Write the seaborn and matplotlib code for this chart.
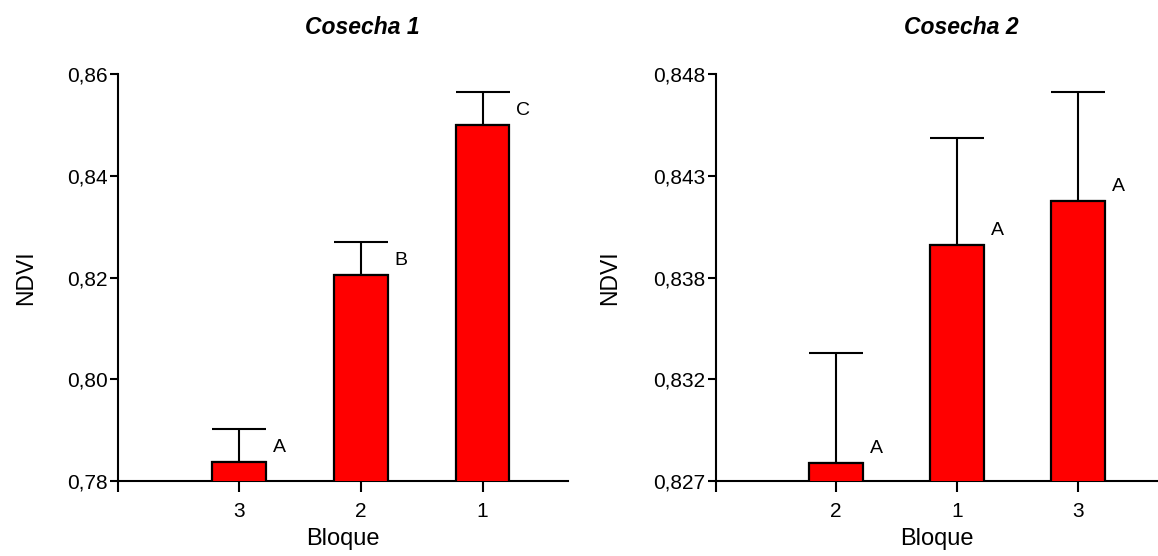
import matplotlib
matplotlib.use("Agg")
import matplotlib.pyplot as plt
import seaborn as sns
import pandas as pd
import numpy as np

# ---- data ----
bloques_c1 = ["3", "2", "1"]
ndvi_c1 = [0.7837, 0.8205, 0.8500]
err_c1 = [0.0065, 0.0064, 0.0064]
letras_c1 = ["A", "B", "C"]
yticks_c1 = [0.78, 0.80, 0.82, 0.84, 0.86]
ylabels_c1 = ["0,78", "0,80", "0,82", "0,84", "0,86"]

bloques_c2 = ["2", "1", "3"]
ndvi_c2 = [0.82794, 0.83919, 0.84144]
err_c2 = [0.00564, 0.00549, 0.00561]
letras_c2 = ["A", "A", "A"]
yticks_c2 = [0.827, 0.83225, 0.8375, 0.84275, 0.848]
ylabels_c2 = ["0,827", "0,832", "0,838", "0,843", "0,848"]

titles = ["Cosecha 1", "Cosecha 2"]

sns.set_theme(style="ticks")
plt.rcParams["font.family"] = ["Liberation Sans", "DejaVu Sans"]
for k in ["text.color", "axes.labelcolor", "xtick.color", "ytick.color", "axes.edgecolor"]:
    plt.rcParams[k] = "black"

fig = plt.figure(figsize=(11.58, 5.56), dpi=100)
ax1 = fig.add_axes([118 / 1158, 75 / 556, 450 / 1158, 407 / 556])
ax2 = fig.add_axes([716 / 1158, 75 / 556, 442 / 1158, 407 / 556])

panels = [
    (ax1, bloques_c1, ndvi_c1, err_c1, letras_c1, yticks_c1, ylabels_c1, (-0.99, 2.70), 0.544, -0.18),
    (ax2, bloques_c2, ndvi_c2, err_c2, letras_c2, yticks_c2, ylabels_c2, (-0.99, 2.66), 0.555, -0.215),
]

for i, (ax, cats, vals, errs, letras, yt, yl, xlim, tx, lx) in enumerate(panels):
    df = pd.DataFrame({"Bloque": cats, "NDVI": vals})
    sns.barplot(data=df, x="Bloque", y="NDVI", order=cats, color="#ff0000",
                saturation=1, width=0.44, edgecolor="black", linewidth=1.6,
                errorbar=None, ax=ax, zorder=3)
    pos = np.arange(len(cats))
    ax.errorbar(pos, vals, yerr=[np.zeros(len(errs)), errs], fmt="none",
                ecolor="black", elinewidth=1.5, capsize=19.5, capthick=1.5,
                zorder=2)
    for p, v, e, l in zip(pos, vals, errs, letras):
        ax.annotate(l, xy=(p + 0.22, v), xytext=(7, 6), textcoords="offset pixels",
                    ha="left", va="bottom", fontsize=14)
    ax.set_ylim(yt[0], yt[-1])
    ax.set_xlim(*xlim)
    ax.set_yticks(yt)
    ax.set_yticklabels(yl)
    ax.set_xticks([xlim[0]] + list(pos))
    ax.set_xticklabels([""] + cats)
    ax.tick_params(axis="y", length=6, width=1.5, pad=1.5, labelsize=15, direction="out")
    ax.tick_params(axis="x", length=8, width=1.5, pad=7, labelsize=15, direction="out")
    for s in ["top", "right"]:
        ax.spines[s].set_visible(False)
    for s in ["left", "bottom"]:
        ax.spines[s].set_linewidth(1.5)
        ax.spines[s].set_color("black")
    ax.set_xlabel("Bloque", fontsize=17, labelpad=5)
    ax.set_ylabel("NDVI", fontsize=16.5)
    ax.yaxis.set_label_coords(lx, 0.5)
    ax.set_title(titles[i], fontsize=16.5, fontweight="bold", fontstyle="italic",
                 x=tx, pad=29)
    ax.set_facecolor("white")

fig.savefig("out.png", dpi=100, facecolor="white")
